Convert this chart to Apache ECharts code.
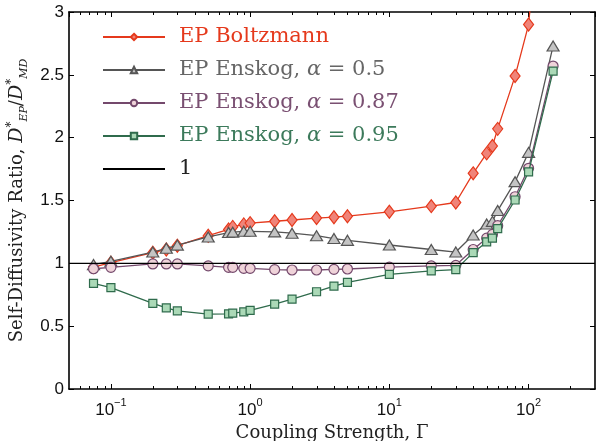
<!DOCTYPE html>
<html><head><meta charset="utf-8">
<script src="https://cdn.jsdelivr.net/npm/echarts@6/dist/echarts.min.js"></script>
<style>html,body{margin:0;padding:0;background:#fff}#c{width:598px;height:441px}</style>
</head><body><div id="c"></div>
<script>
// ---- data ----
const gamma = [0.075,0.1,0.2,0.25,0.3,0.5,0.7,0.75,0.9,1,1.5,2,3,4,5,10,20,30,40,50,55,60,80,100,150];
const boltzmann = [0.97,1.005,1.085,1.11,1.14,1.22,1.27,1.29,1.31,1.32,1.335,1.345,1.36,1.367,1.375,1.41,1.455,1.484,1.716,1.875,1.934,2.07,2.49,2.90,5.0];
const enskog05 = [0.99,1.016,1.09,1.12,1.145,1.21,1.245,1.248,1.255,1.255,1.25,1.24,1.22,1.197,1.183,1.146,1.11,1.09,1.225,1.313,1.334,1.42,1.65,1.883,2.73];
const enskog087 = [0.957,0.968,0.995,0.995,0.995,0.98,0.968,0.968,0.96,0.96,0.95,0.947,0.947,0.952,0.955,0.97,0.98,0.984,1.11,1.2,1.23,1.30,1.53,1.756,2.57];
const enskog095 = [0.84,0.806,0.681,0.646,0.622,0.596,0.598,0.604,0.614,0.625,0.676,0.715,0.774,0.819,0.849,0.912,0.94,0.95,1.085,1.17,1.20,1.276,1.504,1.727,2.53];
const refX = [0.05, 300];
const refY = [1, 1];
const seriesNames = ['EP Boltzmann','EP Enskog, α = 0.5','EP Enskog, α = 0.87','EP Enskog, α = 0.95','1'];
const xMin = 0.05, xMax = 300;
const yMin = 0, yMax = 3, yStep = 0.5;

const serif = 'DejaVu Serif';
const sans = 'Liberation Sans';
const colors = {
  red: {line:'#e5391c', fill:'#f08479', text:'#e5391c'},
  gray: {line:'#555555', fill:'#c4c4c4', text:'#666666'},
  purple: {line:'#74496c', fill:'#efd3d9', text:'#7a5072'},
  green: {line:'#2f6b4c', fill:'#abd9b7', text:'#3c7a5b'}
};
const pairs = ys => gamma.map((g,i)=>[g, ys[i]]);

const chart = echarts.init(document.getElementById('c'), null, {renderer:'canvas'});

function mkSeries(name, ys, c, symbol, size, z){
  return {
    name, type:'line', data: pairs(ys), z,
    symbol, symbolSize: size,
    lineStyle:{color:c.line, width:1.3},
    itemStyle:{color:c.fill, borderColor:c.line, borderWidth:1.2},
    emphasis:{disabled:true}, animation:false, clip:true
  };
}

const axisBase = {
  type:'log', logBase:10, min:xMin, max:xMax,
  axisLine:{show:true, onZero:false, lineStyle:{color:'#000', width:1.6}},
  axisTick:{show:true, inside:true, length:5, lineStyle:{color:'#000', width:1}},
  splitLine:{show:false}
};
const legendColors = [colors.red.text,colors.gray.text,colors.purple.text,colors.green.text,'#222'];
const option = {
  animation:false,
  backgroundColor:'#fff',
  grid:{left:69, right:3, top:12, bottom:52, containLabel:false, outerBoundsMode:'none'},
  legend:{
    orient:'vertical', left:97, top:21,
    itemWidth:62, itemHeight:8, itemGap:11,
    data: seriesNames.map((n,i)=>{
      const d = {name:n, textStyle:{color:legendColors[i]}};
      if (i === 4) d.itemStyle = {opacity:0};
      return d;
    }),
    formatter: n => {
      const i = seriesNames.indexOf(n);
      const key = ['r','g','p','q','k'][i];
      return n.replace('α','{' + key + '|α}');
    },
    textStyle:{fontFamily:serif, fontSize:21, lineHeight:22, padding:[0,0,0,9],
      rich:{
        g:{fontFamily:serif, fontStyle:'italic', fontSize:21, color:colors.gray.text},
        p:{fontFamily:serif, fontStyle:'italic', fontSize:21, color:colors.purple.text},
        q:{fontFamily:serif, fontStyle:'italic', fontSize:21, color:colors.green.text}
      }}
  },
  xAxis:[
    Object.assign({}, axisBase, {
      position:'bottom',
      name:'Coupling Strength, Γ', nameLocation:'middle', nameGap:30,
      nameTextStyle:{fontFamily:serif, fontSize:18, color:'#222'},
      axisLabel:{
        show:true, margin:8, showMinLabel:false, showMaxLabel:false,
        formatter: v => {
          const e = Math.log10(v);
          if (Math.abs(e - Math.round(e)) > 1e-6) return '';
          const s = String(Math.round(e)).replace('-', '−');
          return '{b|10}{s|' + s + '}';
        },
        rich:{
          b:{fontFamily:sans, fontSize:17, color:'#111', lineHeight:22, verticalAlign:'bottom'},
          s:{fontFamily:sans, fontSize:11, color:'#111', lineHeight:22, verticalAlign:'top'}
        }
      }
    }),
    Object.assign({}, axisBase, {position:'top', axisLabel:{show:false}})
  ],
  yAxis:[
    {type:'value', min:yMin, max:yMax, interval:yStep, position:'left',
     axisLine:{show:true, onZero:false, lineStyle:{color:'#000', width:1.6}},
     axisTick:{show:true, inside:true, length:5, lineStyle:{color:'#000', width:1}},
     splitLine:{show:false},
     axisLabel:{fontFamily:sans, fontSize:17, color:'#111', margin:5},
     name:'{t|Self-Diffusivity Ratio, }{d|D}{sp|*}{sb|EP}{t|/}{d|D}{sp|*}{sb|MD}',
     nameLocation:'middle', nameGap:34, nameRotate:90,
     nameTextStyle:{
       fontFamily:serif, fontSize:18, color:'#222',
       rich:{
         t:{fontFamily:serif, fontSize:18, color:'#222', lineHeight:24},
         d:{fontFamily:serif, fontStyle:'italic', fontSize:19, color:'#222', lineHeight:24},
         sp:{fontFamily:serif, fontSize:12, color:'#222', lineHeight:24, verticalAlign:'top'},
         sb:{fontFamily:serif, fontStyle:'italic', fontSize:11, color:'#222', lineHeight:24, verticalAlign:'bottom'}
       }
     }
    },
    {type:'value', min:yMin, max:yMax, interval:yStep, position:'right',
     axisLine:{show:true, onZero:false, lineStyle:{color:'#000', width:1.6}},
     axisTick:{show:true, inside:true, length:5, lineStyle:{color:'#000', width:1}},
     splitLine:{show:false}, axisLabel:{show:false}}
  ],
  series:[
    mkSeries(seriesNames[0], boltzmann, colors.red, 'diamond', [10,13], 2),
    mkSeries(seriesNames[1], enskog05, colors.gray, 'triangle', [12,10], 3),
    mkSeries(seriesNames[2], enskog087, colors.purple, 'circle', 10, 4),
    mkSeries(seriesNames[3], enskog095, colors.green, 'rect', 8, 5),
    {name:seriesNames[4], type:'line', data: refX.map((x,i)=>[x, refY[i]]), symbol:'none', z:6,
     lineStyle:{color:'#000', width:1.3}, itemStyle:{color:'#000'}, emphasis:{disabled:true}, animation:false}
  ]
};
chart.setOption(option);

// minor ticks on the log axes (positions via the axis scale)
const g = [];
const yb = chart.convertToPixel({yAxisIndex:0}, yMin);
const yt = chart.convertToPixel({yAxisIndex:0}, yMax);
for (let d=-2; d<=2; d++){
  for (let k=2; k<=9; k++){
    const v = k*Math.pow(10,d);
    if (v <= xMin || v >= xMax) continue;
    const x = Math.round(chart.convertToPixel({xAxisIndex:0}, v)) + 0.5;
    g.push({type:'line', shape:{x1:x, y1:yb, x2:x, y2:yb-3}, style:{stroke:'#000', lineWidth:1}, silent:true, z:10});
    g.push({type:'line', shape:{x1:x, y1:yt, x2:x, y2:yt+3}, style:{stroke:'#000', lineWidth:1}, silent:true, z:10});
  }
}
chart.setOption({graphic: g});
</script></body></html>
